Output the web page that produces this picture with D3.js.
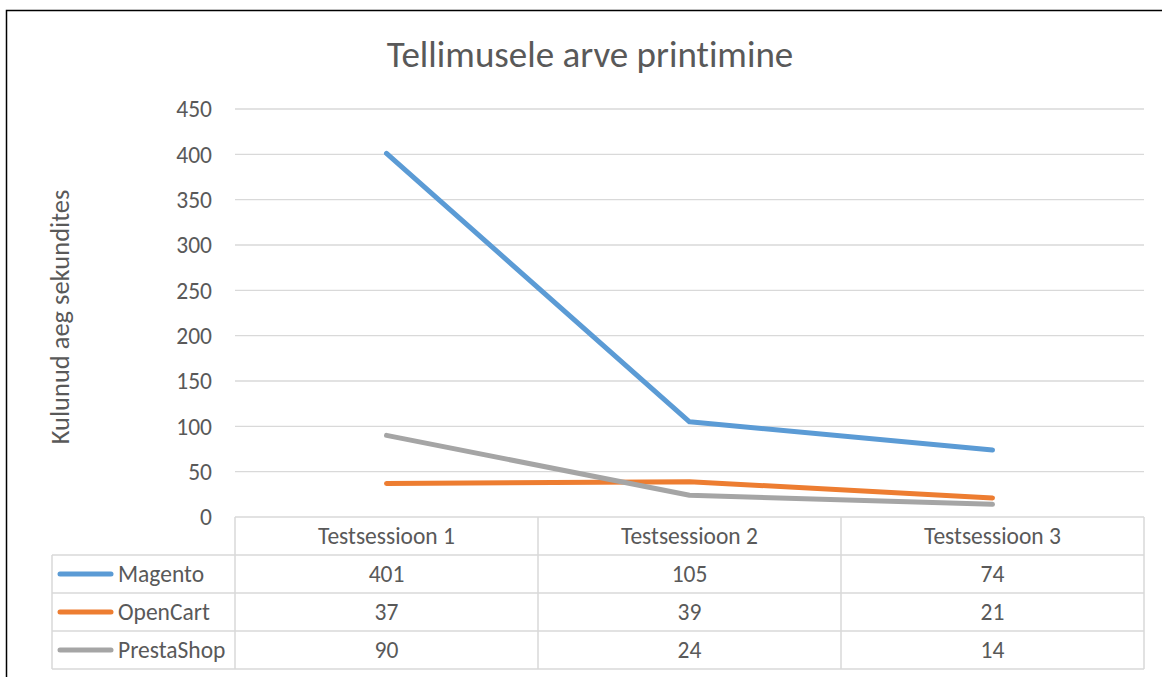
<!DOCTYPE html>
<html>
<head>
<meta charset="utf-8">
<script src="https://cdn.jsdelivr.net/npm/d3@7"></script>
<style>
  body { margin: 0; background: #fff; }
  text { font-family: Carlito, Lato, "Liberation Sans", sans-serif; fill: #595959; font-variant-ligatures: none; }
</style>
</head>
<body>
<div id="chart"></div>
<script>
var categories = ["Testsessioon 1", "Testsessioon 2", "Testsessioon 3"];
var seriesNames = ["Magento", "OpenCart", "PrestaShop"];
var magento = [401, 105, 74];
var openCart = [37, 39, 21];
var prestaShop = [90, 24, 14];
var yTicks = [0, 50, 100, 150, 200, 250, 300, 350, 400, 450];
var colors = ["#5b9bd5", "#ed7d31", "#a5a5a5"];

var width = 1162, height = 677;
var plot = {left: 235, right: 1144, top: 109, bottom: 517};
var tableLeft = 52, rowH = 38;
var labelSize = "23.5px";

var series = [magento, openCart, prestaShop].map(function(vals, i) {
  return {name: seriesNames[i], values: vals, color: colors[i]};
});

var svg = d3.select("#chart")
  .append("svg")
  .attr("width", width)
  .attr("height", height);

// outer frame
svg.append("rect")
  .attr("x", 6.5).attr("y", 10.5)
  .attr("width", 1170).attr("height", 700)
  .attr("fill", "none")
  .attr("stroke", "#000")
  .attr("stroke-width", 1.5);

var x = d3.scaleBand()
  .domain(categories)
  .range([plot.left, plot.right]);

var y = d3.scaleLinear()
  .domain([0, 450])
  .range([plot.bottom, plot.top]);

// gridlines
svg.append("g").selectAll("line")
  .data(yTicks.filter(function(d) { return d > 0; }))
  .enter().append("line")
    .attr("x1", plot.left).attr("x2", plot.right)
    .attr("y1", function(d) { return y(d); })
    .attr("y2", function(d) { return y(d); })
    .attr("stroke", "#d9d9d9")
    .attr("stroke-width", 1.3);

// y tick labels
svg.append("g").selectAll("text")
  .data(yTicks)
  .enter().append("text")
    .attr("x", 212)
    .attr("y", function(d) { return y(d); })
    .attr("dy", "0.35em")
    .attr("text-anchor", "end")
    .style("font-size", labelSize)
    .text(function(d) { return d; });

// title
svg.append("text")
  .attr("x", 590)
  .attr("y", 67)
  .attr("text-anchor", "middle")
  .style("font-size", "37px")
  .text("Tellimusele arve printimine");

// y axis title
svg.append("text")
  .attr("transform", "translate(69," + 317 + ") rotate(-90)")
  .attr("text-anchor", "middle")
  .style("font-size", "26.5px")
  .text("Kulunud aeg sekundites");

// data table
var table = svg.append("g");
var gridColor = "#d9d9d9";
var rowTops = [0, 1, 2, 3, 4].map(function(i) { return plot.bottom + i * rowH; });

// horizontal lines
table.selectAll("line.h")
  .data(rowTops)
  .enter().append("line")
    .attr("class", "h")
    .attr("x1", function(d, i) { return i === 0 ? plot.left : tableLeft; })
    .attr("x2", plot.right)
    .attr("y1", function(d) { return d; })
    .attr("y2", function(d) { return d; })
    .attr("stroke", gridColor)
    .attr("stroke-width", 1.5);

// vertical lines
var colEdges = [plot.left].concat(categories.map(function(c) { return x(c) + x.bandwidth(); }));
table.selectAll("line.v")
  .data(colEdges)
  .enter().append("line")
    .attr("class", "v")
    .attr("x1", function(d) { return d; })
    .attr("x2", function(d) { return d; })
    .attr("y1", plot.bottom)
    .attr("y2", rowTops[4])
    .attr("stroke", gridColor)
    .attr("stroke-width", 1.5);
table.append("line")
  .attr("x1", tableLeft).attr("x2", tableLeft)
  .attr("y1", rowTops[1]).attr("y2", rowTops[4])
  .attr("stroke", gridColor)
  .attr("stroke-width", 1.5);

// header
table.selectAll("text.cat")
  .data(categories)
  .enter().append("text")
    .attr("class", "cat")
    .attr("x", function(d) { return x(d) + x.bandwidth() / 2; })
    .attr("y", plot.bottom + rowH / 2)
    .attr("dy", "0.35em")
    .attr("text-anchor", "middle")
    .style("font-size", labelSize)
    .text(function(d) { return d; });

// rows
var rows = table.selectAll("g.row")
  .data(series)
  .enter().append("g")
    .attr("class", "row")
    .attr("transform", function(d, i) { return "translate(0," + (rowTops[i + 1] + rowH / 2) + ")"; });

rows.append("line")
  .attr("x1", 60).attr("x2", 111)
  .attr("y1", 0).attr("y2", 0)
  .attr("stroke", function(d) { return d.color; })
  .attr("stroke-width", 5)
  .attr("stroke-linecap", "round");

rows.append("text")
  .attr("x", 118)
  .attr("dy", "0.35em")
  .style("font-size", labelSize)
  .text(function(d) { return d.name; });

rows.selectAll("text.val")
  .data(function(d) { return d.values; })
  .enter().append("text")
    .attr("class", "val")
    .attr("x", function(d, i) { return x(categories[i]) + x.bandwidth() / 2; })
    .attr("dy", "0.35em")
    .attr("text-anchor", "middle")
    .style("font-size", labelSize)
    .text(function(d) { return d; });

// lines
var line = d3.line()
  .x(function(d, i) { return x(categories[i]) + x.bandwidth() / 2; })
  .y(function(d) { return y(d); });

svg.append("g").selectAll("path")
  .data(series)
  .enter().append("path")
    .attr("d", function(d) { return line(d.values); })
    .attr("fill", "none")
    .attr("stroke", function(d) { return d.color; })
    .attr("stroke-width", 5)
    .attr("stroke-linecap", "round")
    .attr("stroke-linejoin", "round");
</script>
</body>
</html>
